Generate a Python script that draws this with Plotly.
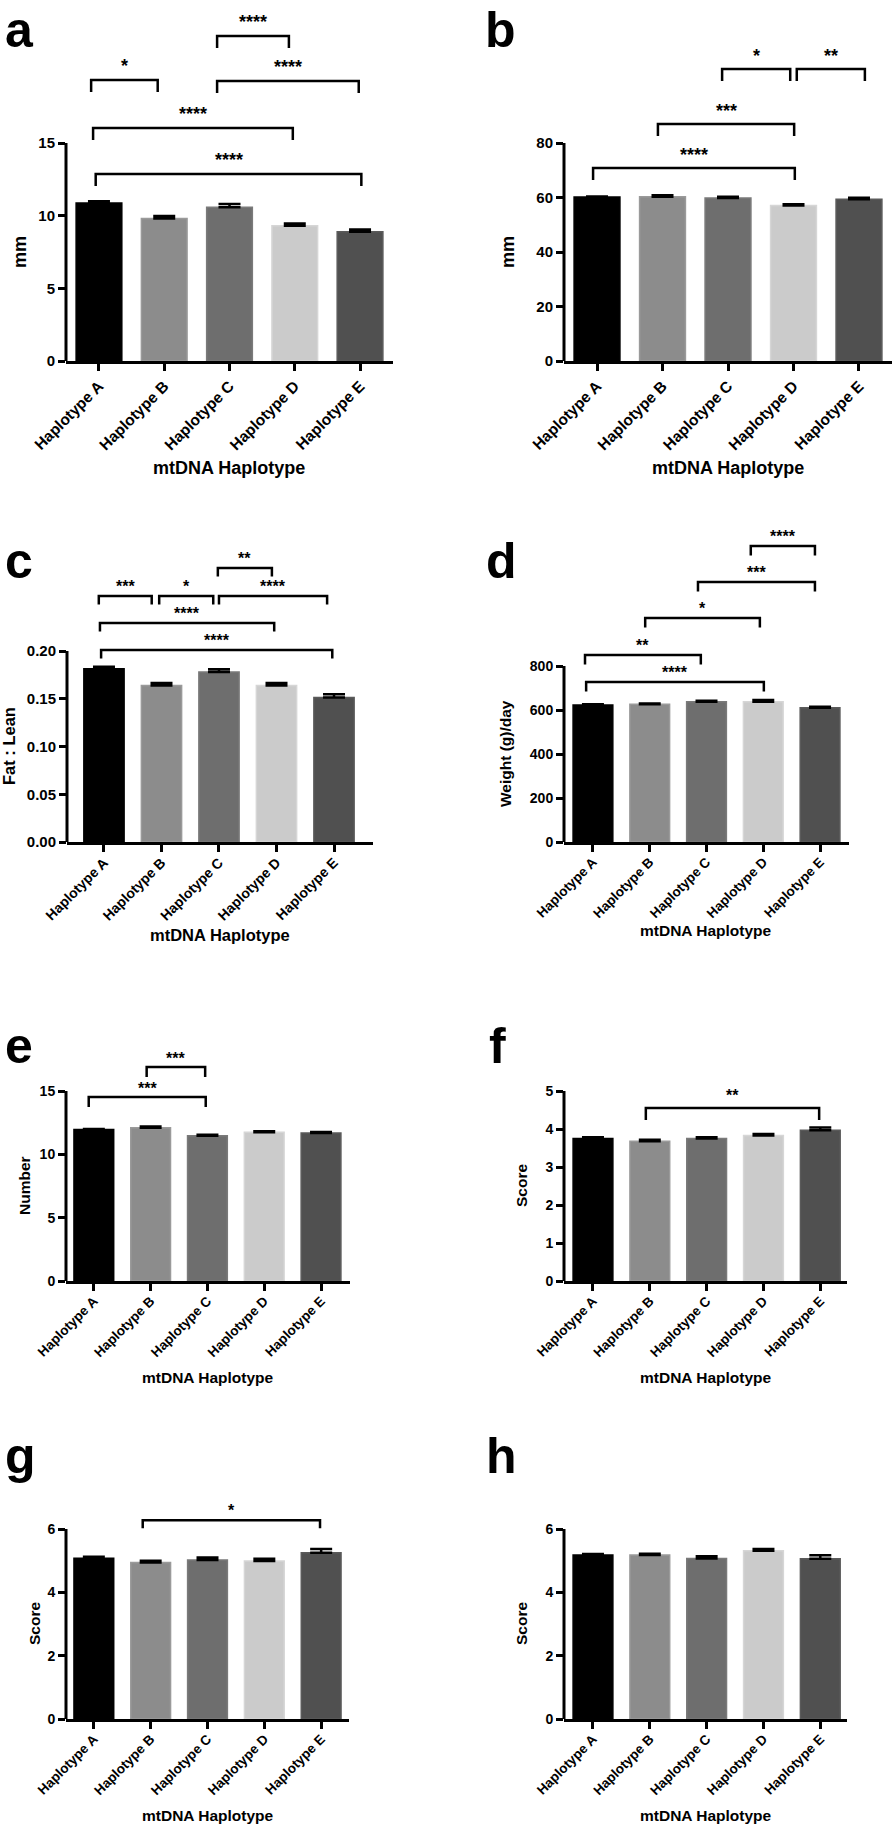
import numpy as np
import plotly.graph_objects as go

W, H = 894, 1825
FONT = "Liberation Sans, Arial, sans-serif"

# ---------------- data ----------------
categories = ["Haplotype A", "Haplotype B", "Haplotype C", "Haplotype D", "Haplotype E"]
x_title = "mtDNA Haplotype"

a_mean = [10.88, 9.80, 10.58, 9.30, 8.89]
a_sem = [0.12, 0.18, 0.23, 0.16, 0.16]
b_mean = [60.2, 60.3, 59.8, 57.1, 59.4]
b_sem = [0.2, 0.5, 0.5, 0.4, 0.5]
c_mean = [0.1815, 0.1638, 0.1780, 0.1638, 0.1512]
c_sem = [0.0021, 0.0028, 0.0028, 0.0028, 0.0035]
d_mean = [622.7, 625.8, 637.9, 637.9, 610.6]
d_sem = [3.0, 4.2, 4.1, 7.0, 4.4]
e_mean = [11.97, 12.10, 11.47, 11.74, 11.68]
e_sem = [0.03, 0.10, 0.08, 0.08, 0.08]
f_mean = [3.75, 3.68, 3.75, 3.83, 3.97]
f_sem = [0.03, 0.04, 0.03, 0.04, 0.07]
g_mean = [5.08, 4.94, 5.02, 4.99, 5.25]
g_sem = [0.04, 0.06, 0.08, 0.07, 0.12]
h_mean = [5.18, 5.18, 5.07, 5.31, 5.06]
h_sem = [0.03, 0.04, 0.07, 0.06, 0.11]

# significance brackets: (left, right, height, label)
a_brackets = [(-0.12, 0.90, 19.34, "*"), (1.81, 2.91, 22.37, "****"), (1.81, 3.98, 19.27, "****"),
              (-0.09, 2.97, 16.03, "****"), (-0.05, 4.02, 12.87, "****")]
b_brackets = [(1.91, 2.95, 107.2, "*"), (3.05, 4.09, 107.2, "**"), (0.93, 3.01, 87.0, "***"),
              (-0.06, 3.02, 70.8, "****")]
c_brackets = [(-0.09, 0.83, 0.2576, "***"), (0.96, 1.90, 0.2576, "*"), (1.98, 2.92, 0.2869, "**"),
              (2.00, 3.88, 0.2576, "****"), (-0.07, 2.96, 0.2293, "****"), (-0.05, 3.97, 0.2010, "****")]
d_brackets = [(2.78, 3.91, 1345, "****"), (1.85, 3.91, 1182, "***"), (0.92, 2.94, 1018, "*"),
              (-0.14, 1.90, 850, "**"), (-0.12, 3.01, 727, "****")]
e_brackets = [(0.93, 1.96, 16.9, "***"), (-0.09, 1.97, 14.52, "***")]
f_brackets = [(0.93, 3.98, 4.55, "**")]
g_brackets = [(0.86, 3.98, 6.28, "*")]
h_brackets = []

y_titles = ["mm", "mm", "Fat : Lean", "Weight (g)/day", "Number", "Score", "Score", "Score"]
letters = ["a", "b", "c", "d", "e", "f", "g", "h"]

bar_colors = ["#000000", "#8c8c8c", "#6e6e6e", "#cbcbcb", "#505050"]
bar_edges = ["#000000", "#9a9a9a", "#7a7a7a", "#d6d6d6", "#5a5a5a"]

# ---------------- layout of panels (pixels) ----------------
panels = [
    dict(mean=a_mean, sem=a_sem, br=a_brackets, x0=66, x1=393, xlo=-0.505, xhi=4.505, y0=361, yt=143,
         ymax=15, dt=5, top=0, fmt="", xf=15.5, so=0, yf=15, tt=18, ytp=(20, 252), xtp=(229, 468),
         let=(3, 40), leg=12, sf=18, ss=2),
    dict(mean=b_mean, sem=b_sem, br=b_brackets, x0=564, x1=892, xlo=-0.504, xhi=4.504, y0=361, yt=143,
         ymax=80, dt=20, top=0, fmt="", xf=15.5, so=0, yf=15, tt=18, ytp=(508, 252), xtp=(728, 468),
         let=(483, 40), leg=12, sf=18, ss=1),
    dict(mean=c_mean, sem=c_sem, br=c_brackets, x0=67, x1=373, xlo=-0.643, xhi=4.678, y0=842, yt=651,
         ymax=0.20, dt=0.05, top=480, fmt=".2f", xf=14, so=-3, yf=15, tt=16.5, ytp=(9, 746),
         xtp=(220, 935), let=(3, 577), leg=8.5, sf=16, ss=-1),
    dict(mean=d_mean, sem=d_sem, br=d_brackets, x0=564, x1=849, xlo=-0.51, xhi=4.51, y0=842, yt=666,
         ymax=800, dt=200, top=480, fmt="", xf=13.5, so=-3, yf=14, tt=15.5, ytp=(505, 754),
         xtp=(706, 930), let=(484, 577), leg=9.5, sf=16, ss=-1),
    dict(mean=e_mean, sem=e_sem, br=e_brackets, x0=66, x1=350, xlo=-0.49, xhi=4.51, y0=1281, yt=1091,
         ymax=15, dt=5, top=1000, fmt="", xf=13.5, so=-3, yf=14, tt=15.5, ytp=(24, 1186),
         xtp=(208, 1377), let=(3, 1062), leg=10, sf=16, ss=-2),
    dict(mean=f_mean, sem=f_sem, br=f_brackets, x0=564, x1=847, xlo=-0.51, xhi=4.47, y0=1281, yt=1091,
         ymax=5, dt=1, top=1000, fmt="", xf=13.5, so=-3, yf=14, tt=15.5, ytp=(521, 1186),
         xtp=(706, 1377), let=(487, 1062), leg=12, sf=16, ss=2),
    dict(mean=g_mean, sem=g_sem, br=g_brackets, x0=66, x1=349, xlo=-0.49, xhi=4.49, y0=1719, yt=1529,
         ymax=6, dt=2, top=1440, fmt="", xf=13.5, so=-3, yf=14, tt=15.5, ytp=(34, 1624),
         xtp=(208, 1815), let=(3, 1472), leg=8, sf=16, ss=-1),
    dict(mean=h_mean, sem=h_sem, br=h_brackets, x0=564, x1=847, xlo=-0.51, xhi=4.47, y0=1719, yt=1529,
         ymax=6, dt=2, top=1440, fmt="", xf=13.5, so=-3, yf=14, tt=15.5, ytp=(521, 1624),
         xtp=(706, 1815), let=(484, 1472), leg=8, sf=16, ss=0),
]

fig = go.Figure()
shapes = []
annotations = []
xpos = list(range(len(categories)))
LETTER = 50

for i, p in enumerate(panels):
    n = "" if i == 0 else str(i + 1)
    xa, ya = "x" + n, "y" + n
    scale = (p["y0"] - p["yt"]) / p["ymax"]  # px per data unit
    ytop = (p["y0"] - p["top"]) / scale

    fig.add_trace(go.Bar(
        x=xpos, y=p["mean"], xaxis=xa, yaxis=ya, width=0.7,
        marker=dict(color=bar_colors, line=dict(color=bar_edges, width=1.5)),
        error_y=dict(type="data", symmetric=False, array=p["sem"], arrayminus=[0] * 5,
                     color="black", thickness=2.5, width=11),
        showlegend=False, hoverinfo="skip",
    ))

    ticks = list(np.round(np.arange(0, p["ymax"] + p["dt"] / 2, p["dt"]), 6))
    fig.update_layout(**{
        "xaxis" + n: dict(domain=[p["x0"] / W, p["x1"] / W], anchor=ya, range=[p["xlo"], p["xhi"]],
                          tickvals=xpos, ticktext=categories, tickangle=-45, ticks="outside",
                          ticklen=7, tickwidth=3, tickcolor="black", showline=True, linewidth=3,
                          linecolor="black", showgrid=False, zeroline=False, fixedrange=True,
                          automargin=False, ticklabelstandoff=p["so"],
                          tickfont=dict(family=FONT, size=p["xf"], color="black", weight="bold")),
        "yaxis" + n: dict(domain=[1 - p["y0"] / H, 1 - p["top"] / H], anchor=xa, range=[0, ytop],
                          tickvals=ticks, tickformat=p["fmt"], ticks="outside", ticklen=7, tickwidth=3,
                          tickcolor="black", showline=False, showgrid=False, zeroline=False,
                          fixedrange=True, automargin=False,
                          tickfont=dict(family=FONT, size=p["yf"], color="black", weight="bold")),
    })

    # y axis line only up to the highest tick
    shapes.append(dict(type="line", xref=xa + " domain", yref=ya, x0=0, x1=0, y0=0, y1=p["ymax"],
                       line=dict(color="black", width=3)))

    # significance brackets
    leg = p["leg"] / scale
    for (l, r, yb, lab) in p["br"]:
        shapes.append(dict(type="path", xref=xa, yref=ya,
                           path=f"M {l},{yb - leg} L {l},{yb} L {r},{yb} L {r},{yb - leg}",
                           line=dict(color="black", width=2.5)))
        annotations.append(dict(x=(l + r) / 2, y=yb, xref=xa, yref=ya, text=lab, showarrow=False,
                                yanchor="bottom", yshift=p["ss"],
                                font=dict(family=FONT, size=p["sf"], color="black", weight="bold")))

    # axis titles
    annotations.append(dict(x=p["ytp"][0] / W, y=1 - p["ytp"][1] / H, xref="paper", yref="paper",
                            text=y_titles[i], textangle=-90, showarrow=False,
                            xanchor="center", yanchor="middle",
                            font=dict(family=FONT, size=p["tt"], color="black", weight="bold")))
    annotations.append(dict(x=p["xtp"][0] / W, y=1 - p["xtp"][1] / H, xref="paper", yref="paper",
                            text=x_title, showarrow=False, xanchor="center", yanchor="middle",
                            font=dict(family=FONT, size=p["tt"], color="black", weight="bold")))
    # panel letter (placed by baseline, kept inside the page)
    top_px = max(p["let"][1] - 0.905 * LETTER - 1, 0)
    annotations.append(dict(x=p["let"][0] / W, y=1 - top_px / H,
                            xref="paper", yref="paper", text=letters[i], showarrow=False,
                            xanchor="left", yanchor="top",
                            font=dict(family=FONT, size=LETTER, color="black", weight="bold")))

fig.update_layout(template="none", width=W, height=H, margin=dict(l=0, r=0, t=0, b=0, autoexpand=False),
                  paper_bgcolor="white", plot_bgcolor="white",
                  shapes=shapes, annotations=annotations, bargap=0.3)

fig.write_html("out.html", config={"displayModeBar": False, "staticPlot": True},
               post_script="document.body.style.margin='0';")
